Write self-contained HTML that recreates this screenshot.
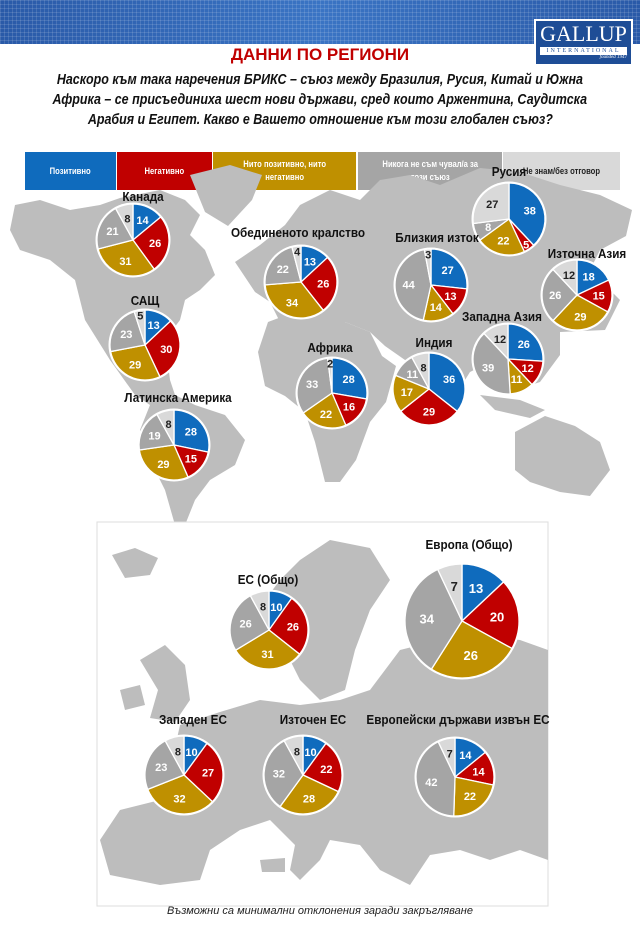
<!DOCTYPE html>
<html><head><meta charset="utf-8">
<style>
*{margin:0;padding:0;box-sizing:border-box}
body{width:640px;height:927px;background:#fff;position:relative;overflow:hidden;font-family:"Liberation Sans","DejaVu Sans",sans-serif}
.banner{position:absolute;left:0;top:0;width:640px;height:44px;background:linear-gradient(90deg,#2a5aa8,#3a74c4 50%,#2a5aa8);overflow:hidden}
.banner:after{content:"";position:absolute;inset:0;background-image:linear-gradient(rgba(255,255,255,.12) 1px,transparent 1px),linear-gradient(90deg,rgba(255,255,255,.12) 1px,transparent 1px);background-size:4px 4px}
.logo{position:absolute;left:534px;top:19px;width:99px;height:47px;background:#1e4d96;border:2px solid #fff;color:#fff;text-align:center;font-family:"Liberation Serif",serif;z-index:2}
.logo .g{font-size:22px;line-height:22px;margin-top:2px}
.logo .i{font-size:6px;letter-spacing:2px;background:#fff;color:#1e4d96;margin:2px 4px 0;line-height:8px}
.logo .f{font-size:5px;text-align:right;padding-right:4px;font-style:italic}
h1{position:absolute;top:45px;left:0;width:640px;text-align:center;color:#c00000;font-size:17px;font-weight:bold}
.ql{position:absolute;left:0;width:640px;text-align:center;font-size:14.5px;font-weight:bold;font-style:italic;line-height:20px;color:#111;white-space:nowrap}
.ql span{display:inline-block;transform:scaleX(0.86)}
.leg{position:absolute;top:152px;height:38px;color:#fff;font-size:9px;font-weight:bold;display:flex;align-items:center;justify-content:center;text-align:center;line-height:13px;white-space:nowrap}
.leg span{display:inline-block;transform:scaleX(0.85)}
svg{position:absolute;left:0;top:0}
.foot{position:absolute;top:905px;width:640px;text-align:center;font-size:11px;font-style:italic;color:#222}
</style></head><body>
<div class="banner"></div>
<div class="logo"><div class="g">GALLUP</div><div class="i">INTERNATIONAL</div><div class="f">founded 1947</div></div>
<h1>ДАННИ ПО РЕГИОНИ</h1>
<div class="ql" style="top:70px"><span>Наскоро към така наречения БРИКС – съюз между Бразилия, Русия, Китай и Южна</span></div>
<div class="ql" style="top:90px"><span>Африка – се присъединиха шест нови държави, сред които Аржентина, Саудитска</span></div>
<div class="ql" style="top:110px"><span>Арабия и Египет. Какво е Вашето отношение към този глобален съюз?</span></div>
<div class="leg" style="left:25px;width:91px;background:#0f6bbd"><span>Позитивно</span></div>
<div class="leg" style="left:117px;width:95px;background:#c00000"><span>Негативно</span></div>
<div class="leg" style="left:213px;width:143px;background:#bf9000"><span>Нито позитивно, нито<br>негативно</span></div>
<div class="leg" style="left:358px;width:144px;background:#a5a5a5"><span>Никога не съм чувал/а за<br>този съюз</span></div>
<div class="leg" style="left:503px;width:117px;background:#d9d9d9;color:#222"><span>Не знам/без отговор</span></div>

<svg width="640" height="927" id="s">
<g fill="#bdbdbd">
<polygon points="15,205 40,200 70,210 100,205 120,198 160,190 185,200 200,215 190,235 205,250 215,275 200,290 185,300 180,320 165,340 170,380 175,395 195,405 225,415 245,440 235,465 210,480 195,500 185,525 175,525 165,490 150,460 140,430 150,405 135,395 110,360 85,320 75,280 50,260 20,250 10,230"/>
<polygon points="190,175 230,165 262,175 252,200 228,226 205,212"/>
<polygon points="235,262 260,245 285,225 300,205 330,190 360,200 380,180 410,175 440,185 480,168 520,172 560,185 600,195 632,210 626,236 600,250 590,270 620,300 605,330 560,332 560,355 540,382 510,392 490,362 470,372 440,420 420,396 405,360 385,346 370,332 345,322 310,322 280,322 270,302 255,292"/>
<polygon points="268,322 300,310 340,320 370,332 382,356 396,366 386,402 370,422 356,460 340,482 325,482 315,442 305,412 285,396 265,386 258,352"/>
<polygon points="515,432 545,416 575,426 600,442 610,470 590,496 560,492 530,482 515,470"/>
<polygon points="480,395 520,400 545,410 530,418 495,410"/>
</g>
<rect x="97" y="522" width="451" height="384" fill="#fff" stroke="#ddd"/>
<g fill="#bdbdbd">
<polygon points="112,555 135,548 158,558 150,575 125,578"/>
<polygon points="300,560 330,540 370,548 390,580 370,610 355,650 345,690 320,700 300,680 285,650 260,640 265,600 280,580"/>
<polygon points="140,660 165,645 185,665 190,700 175,722 150,718 158,690"/>
<polygon points="120,690 140,685 145,705 125,710"/>
<polygon points="180,725 220,712 260,700 300,705 340,700 370,690 400,650 440,640 480,635 520,640 548,650 548,860 520,850 490,860 460,850 430,855 410,885 380,870 360,845 330,840 320,860 300,880 290,870 295,845 270,820 240,830 210,850 200,880 160,885 110,875 100,840 120,810 160,800 170,770"/>
<polygon points="260,860 285,858 285,872 262,872"/>
</g>
</svg>
<div class="foot">Възможни са минимални отклонения заради закръгляване</div>
<script>
var C=["#0f6bbd","#c00000","#bf9000","#a5a5a5","#d9d9d9"];
var T=["#fff","#fff","#fff","#fff","#222"];
var P=[
["Канада",133,240,36,143,196,[14,26,31,21,8]],
["Обединеното кралство",301,282,36,298,232,[13,26,34,22,4]],
["САЩ",145,345,35,145,300,[13,30,29,23,5]],
["Латинска Америка",174,445,35,178,397,[28,15,29,19,8]],
["Русия",509,219,36,509,171,[38,5,22,8,27]],
["Близкия изток",431,285,36,437,237,[27,13,14,44,3]],
["Източна Азия",577,295,35,587,253,[18,15,29,26,12]],
["Западна Азия",508,359,35,502,316,[26,12,11,39,12]],
["Африка",332,393,35,330,347,[28,16,22,33,2]],
["Индия",429,389,36,434,342,[36,29,17,11,8]],
["Европа (Общо)",462,621,57,469,544,[13,20,26,34,7]],
["ЕС (Общо)",269,630,39,268,579,[10,26,31,26,8]],
["Западен ЕС",184,775,39,193,719,[10,27,32,23,8]],
["Източен ЕС",303,775,39,313,719,[10,22,28,32,8]],
["Европейски държави извън ЕС",455,777,39,458,719,[14,14,22,42,7]]
];
var s=document.getElementById("s"),ns="http://www.w3.org/2000/svg";
function el(n,a,t){var e=document.createElementNS(ns,n);for(var k in a)e.setAttribute(k,a[k]);if(t!=null)e.textContent=t;s.appendChild(e);return e}
P.forEach(function(p){
 var cx=p[1],cy=p[2],r=p[3],v=p[6],tot=v.reduce(function(a,b){return a+b},0),a0=0;
 el("circle",{cx:cx,cy:cy,r:r+1.5,fill:"#fff"});
 v.forEach(function(x,i){
  var a1=a0+x/tot*2*Math.PI;
  var x0=cx+r*Math.sin(a0),y0=cy-r*Math.cos(a0),x1=cx+r*Math.sin(a1),y1=cy-r*Math.cos(a1);
  el("path",{d:"M"+cx+","+cy+"L"+x0+","+y0+"A"+r+","+r+" 0 "+((a1-a0)>Math.PI?1:0)+" 1 "+x1+","+y1+"Z",fill:C[i],stroke:"#fff","stroke-width":1.3});
  var am=(a0+a1)/2,rr=r*(x<6?0.85:0.62);
  var fs=r>50?13:11;
  el("text",{x:cx+rr*Math.sin(am),y:cy-rr*Math.cos(am)+fs*0.36,"text-anchor":"middle","font-size":fs,"font-weight":"bold",fill:T[i],"font-family":"Liberation Sans, sans-serif"},x);
  a0=a1;
 });
 var t=el("text",{x:p[4],y:p[5]+5,"text-anchor":"middle","font-size":13,"font-weight":"bold",fill:"#111","font-family":"Liberation Sans, DejaVu Sans, sans-serif"},p[0]);
 t.setAttribute("transform","translate("+p[4]+" 0) scale(0.9 1) translate("+(-p[4])+" 0)");
});
</script>
</body></html>
